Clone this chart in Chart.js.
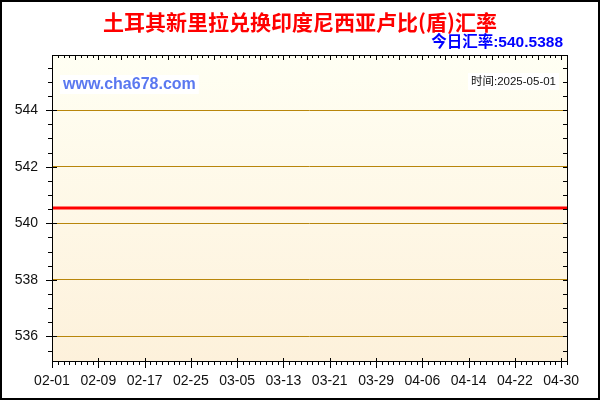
<!DOCTYPE html>
<html>
<head>
<meta charset="utf-8">
<script src="https://cdn.jsdelivr.net/npm/chart.js@4.4.1/dist/chart.umd.min.js"></script>
<style>
  html, body { margin: 0; padding: 0; background: #fff; }
  #wrap { width: 600px; height: 400px; position: relative; }
</style>
</head>
<body>
<div id="wrap"><canvas id="c" width="600" height="400"></canvas></div>
<script>
const titleText = '土耳其新里拉兑换印度尼西亚卢比(盾)汇率';
const subtitleText = '今日汇率:540.5388';
const siteText = 'www.cha678.com';
const timeText = '时间:2025-05-01';

const dates = [
  '02-01','02-02','02-03','02-04','02-05','02-06','02-07','02-08','02-09','02-10',
  '02-11','02-12','02-13','02-14','02-15','02-16','02-17','02-18','02-19','02-20',
  '02-21','02-22','02-23','02-24','02-25','02-26','02-27','02-28',
  '03-01','03-02','03-03','03-04','03-05','03-06','03-07','03-08','03-09','03-10',
  '03-11','03-12','03-13','03-14','03-15','03-16','03-17','03-18','03-19','03-20',
  '03-21','03-22','03-23','03-24','03-25','03-26','03-27','03-28','03-29','03-30','03-31',
  '04-01','04-02','04-03','04-04','04-05','04-06','04-07','04-08','04-09','04-10',
  '04-11','04-12','04-13','04-14','04-15','04-16','04-17','04-18','04-19','04-20',
  '04-21','04-22','04-23','04-24','04-25','04-26','04-27','04-28','04-29','04-30',
  '05-01'
];

const rates = [
  540.5388,540.5388,540.5388,540.5388,540.5388,540.5388,540.5388,540.5388,540.5388,540.5388,
  540.5388,540.5388,540.5388,540.5388,540.5388,540.5388,540.5388,540.5388,540.5388,540.5388,
  540.5388,540.5388,540.5388,540.5388,540.5388,540.5388,540.5388,540.5388,
  540.5388,540.5388,540.5388,540.5388,540.5388,540.5388,540.5388,540.5388,540.5388,540.5388,
  540.5388,540.5388,540.5388,540.5388,540.5388,540.5388,540.5388,540.5388,540.5388,540.5388,
  540.5388,540.5388,540.5388,540.5388,540.5388,540.5388,540.5388,540.5388,540.5388,540.5388,540.5388,
  540.5388,540.5388,540.5388,540.5388,540.5388,540.5388,540.5388,540.5388,540.5388,540.5388,
  540.5388,540.5388,540.5388,540.5388,540.5388,540.5388,540.5388,540.5388,540.5388,540.5388,
  540.5388,540.5388,540.5388,540.5388,540.5388,540.5388,540.5388,540.5388,540.5388,540.5388,
  540.5388
];

const xTickLabels = ['02-01','02-09','02-17','02-25','03-05','03-13','03-21','03-29','04-06','04-14','04-22','04-30'];
const yTickValues = [536, 538, 540, 542, 544];
const yMin = 535.13;
const yMax = 545.95;

const decor = {
  id: 'decor',
  beforeDraw(chart) {
    const ctx = chart.ctx;
    const a = chart.chartArea;
    ctx.save();
    ctx.fillStyle = '#ffffff';
    ctx.fillRect(0, 0, chart.width, chart.height);
    const g = ctx.createLinearGradient(0, a.top, 0, a.bottom);
    g.addColorStop(0, '#fffff3');
    g.addColorStop(1, '#fdf1db');
    ctx.fillStyle = g;
    ctx.fillRect(a.left, a.top, a.right - a.left, a.bottom - a.top);
    ctx.restore();
  },
  afterDraw(chart) {
    const ctx = chart.ctx;
    const a = chart.chartArea;
    const xs = chart.scales.x;
    const ys = chart.scales.y;
    ctx.save();
    ctx.strokeStyle = '#000';
    ctx.lineWidth = 1;
    // plot frame
    ctx.strokeRect(Math.round(a.left) + 0.5, Math.round(a.top) + 0.5,
                   Math.round(a.right - a.left), Math.round(a.bottom - a.top));
    ctx.beginPath();
    // x ticks (bottom outward, top inward)
    for (let i = 0; i < dates.length; i++) {
      const x = Math.round(xs.getPixelForValue(i)) + 0.5;
      if (i % 8 === 0) {
        ctx.moveTo(x, a.bottom - 3); ctx.lineTo(x, a.bottom + 7);
      } else {
        ctx.moveTo(x, a.bottom); ctx.lineTo(x, a.bottom + 4);
      }
      const tl = (i % 4 === 0) ? 5 : 3;
      ctx.moveTo(x, a.top); ctx.lineTo(x, a.top + tl);
    }
    // y ticks
    for (let v = 535.5; v <= 545.5 + 1e-9; v += 0.5) {
      const y = Math.round(ys.getPixelForValue(v)) + 0.5;
      if (yTickValues.indexOf(v) >= 0) {
        ctx.moveTo(a.left - 6, y); ctx.lineTo(a.left + 5, y);
      } else {
        ctx.moveTo(a.left - 4, y); ctx.lineTo(a.left, y);
      }
      ctx.moveTo(a.right - 4, y); ctx.lineTo(a.right, y);
    }
    ctx.stroke();

    // outer border
    ctx.lineWidth = 2;
    ctx.strokeRect(1, 1, chart.width - 2, chart.height - 2);

    // title
    ctx.textBaseline = 'middle';
    ctx.textAlign = 'center';
    ctx.fillStyle = '#ff0000';
    ctx.font = 'bold 21px "Noto Sans CJK SC", sans-serif';
    ctx.fillText(titleText, 300, 22);

    // subtitle
    ctx.textAlign = 'right';
    ctx.fillStyle = '#0000ff';
    ctx.font = 'bold 15.5px "Liberation Sans", "Noto Sans CJK SC", sans-serif';
    ctx.fillText(subtitleText, 563, 43);

    // site
    ctx.textAlign = 'left';
    ctx.font = 'bold 16px "Liberation Sans", Arial, sans-serif';
    let w = ctx.measureText(siteText).width;
    ctx.fillStyle = '#ffffff';
    ctx.fillRect(60, 75, w + 6, 19);
    ctx.fillStyle = '#5a78f0';
    ctx.fillText(siteText, 63, 84.5);

    // time
    ctx.font = '11.5px "Liberation Sans", "Noto Sans CJK SC", sans-serif';
    w = ctx.measureText(timeText).width;
    ctx.fillStyle = '#ffffff';
    ctx.fillRect(556 - w - 3, 73, w + 6, 17);
    ctx.textAlign = 'right';
    ctx.fillStyle = '#111';
    ctx.fillText(timeText, 556, 81.5);
    ctx.restore();
  }
};

new Chart(document.getElementById('c'), {
  type: 'line',
  data: {
    labels: dates,
    datasets: [{
      data: rates,
      borderColor: '#ff0000',
      borderWidth: 3,
      pointRadius: 0,
      tension: 0,
      fill: false
    }]
  },
  options: {
    responsive: false,
    animation: false,
    devicePixelRatio: 1,
    layout: { padding: { left: 12, right: 33, top: 55, bottom: 0 } },
    plugins: { legend: { display: false }, title: { display: false }, tooltip: { enabled: false } },
    scales: {
      x: {
        type: 'category',
        offset: false,
        grid: { display: false, drawTicks: false },
        border: { display: false },
        ticks: {
          autoSkip: false,
          maxRotation: 0,
          minRotation: 0,
          padding: 12,
          color: '#111',
          font: { family: '"Liberation Sans", Arial, sans-serif', size: 14 },
          callback: function (val, idx) {
            const lab = dates[idx];
            return xTickLabels.indexOf(lab) >= 0 ? lab : '';
          }
        },
        afterFit: s => { s.height = 39; }
      },
      y: {
        min: yMin,
        max: yMax,
        afterBuildTicks: s => { s.ticks = yTickValues.map(v => ({ value: v })); },
        grid: { color: '#b8860b', lineWidth: 1, drawTicks: false },
        border: { display: false },
        ticks: {
          padding: 14,
          color: '#111',
          font: { family: '"Liberation Sans", Arial, sans-serif', size: 14 },
          callback: v => String(v)
        },
        afterFit: s => { s.width = 40; }
      }
    }
  },
  plugins: [decor]
});
</script>
</body>
</html>
